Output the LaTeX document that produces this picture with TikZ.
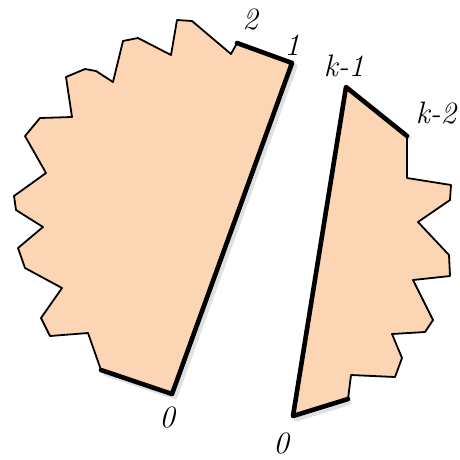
\documentclass[tikz,border=0pt]{standalone}
\definecolor{peach}{RGB}{252,214,180}
\tikzset{
  piece/.style={fill=peach, draw=black, line width=1.8pt, line join=round},
  thickedge/.style={draw=black, line width=4.6pt, line join=round, line cap=round},
  shadowedge/.style={draw=black, opacity=0.12, line width=5pt, line join=round},
  lbl/.style={inner sep=0pt, font=\fontsize{31}{33}\selectfont\itshape}
}
\begin{document}
\begin{tikzpicture}[x=1pt,y=-1pt]
\useasboundingbox (0,0) rectangle (460,459);
% left piece
\draw[shadowedge] ([shift={(3,3)}]101,370) -- ([shift={(3,3)}]172,394) -- ([shift={(3,3)}]292,63) -- ([shift={(3,3)}]237,43);
\draw[piece] (172,394) -- (292,63) -- (237,43) -- (231,54) -- (192,21) -- (177,20) -- (171,55) -- (138,38) -- (123,41) -- (113,82) -- (96,71) -- (85,69) -- (66,77) -- (72,117) -- (40,118) -- (25,136) -- (46,173) -- (14,196) -- (16,210) -- (43,227) -- (18,248) -- (25,268) -- (62,288) -- (41,318) -- (50,336) -- (88,333) -- (101,370) -- cycle;
\draw[thickedge] (101,370) -- (172,394) -- (292,63) -- (237,43);
% right piece
\draw[shadowedge] ([shift={(3,3)}]348,399) -- ([shift={(3,3)}]293,416) -- ([shift={(3,3)}]346,87) -- ([shift={(3,3)}]407,136);
\draw[piece] (293,416) -- (346,87) -- (407,136) -- (407,178) -- (451,185) -- (450,200) -- (418,222) -- (449,255) -- (450,276) -- (413,280) -- (433,320) -- (425,332) -- (392,334) -- (402,358) -- (395,377) -- (351,375) -- (348,399) -- cycle;
\draw[thickedge] (348,399) -- (293,416) -- (346,87) -- (407,136);
% labels
\node[lbl] (l2) at (250,20) {2};
\node[lbl] (l1) at (292,45) {1};
\node[lbl] (lk1) at (344,66) {k-1};
\node[lbl] (lk2) at (436,113) {k-2};
\node[lbl] (l0a) at (167,418) {0};
\node[lbl] (l0b) at (281,444) {0};
\end{tikzpicture}
\end{document}
